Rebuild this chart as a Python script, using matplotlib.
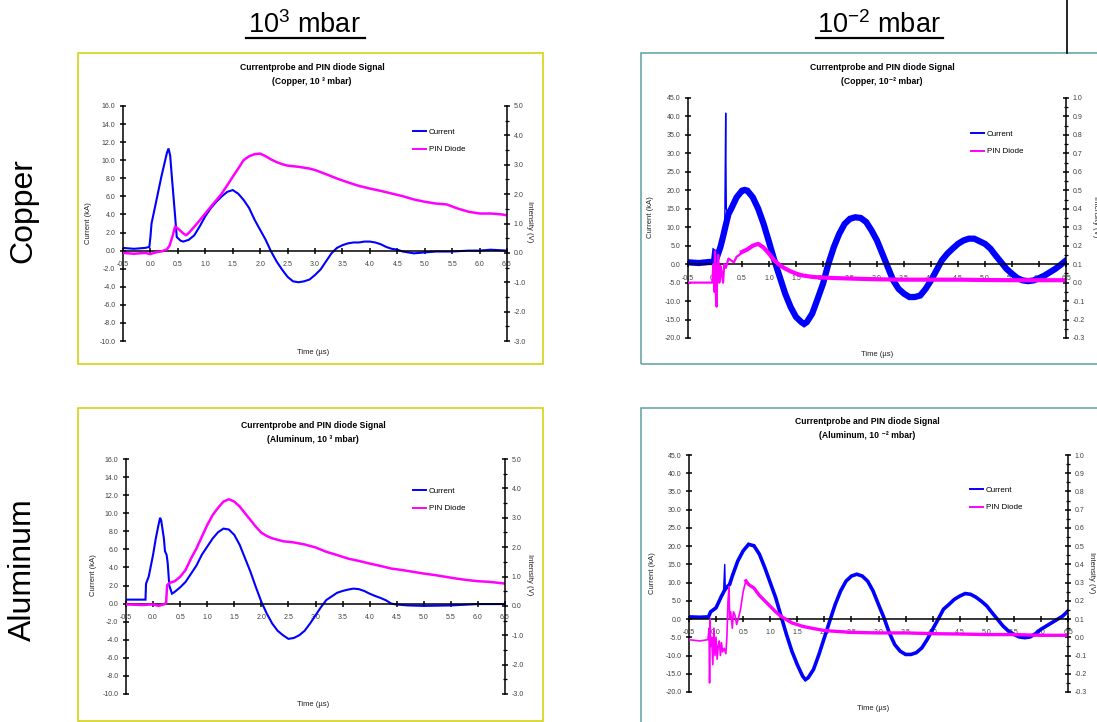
import numpy as np
import matplotlib
matplotlib.use("Agg")
import matplotlib.pyplot as plt
from matplotlib.lines import Line2D
from matplotlib.patches import Rectangle
from matplotlib.ticker import MultipleLocator, FormatStrFormatter

plt.rcParams['font.family'] = ['Liberation Sans', 'DejaVu Sans']
plt.rcParams['mathtext.fontset'] = 'custom'
plt.rcParams['mathtext.rm'] = 'Liberation Sans'
plt.rcParams['mathtext.it'] = 'Liberation Sans:italic'

BLUE = '#0000ff'
MAGENTA = '#ff00ff'

# ---- Copper, 10^3 mbar ----
cu3_t_cur = [-0.5, -0.3, -0.1, -0.02, 0.0, 0.02, 0.1, 0.2, 0.25, 0.3, 0.33, 0.36, 0.39, 0.45, 0.48,
             0.55, 0.6, 0.7, 0.8, 0.9, 1.0, 1.1, 1.2, 1.3, 1.4, 1.5, 1.6, 1.7, 1.8, 1.9, 2.0,
             2.1, 2.2, 2.3, 2.4, 2.5, 2.6, 2.7, 2.8, 2.9, 3.0, 3.1, 3.2, 3.3, 3.4, 3.5, 3.6,
             3.7, 3.8, 3.9, 4.0, 4.1, 4.2, 4.3, 4.4, 4.5, 4.6, 4.8, 5.0, 5.2, 5.5, 5.8, 6.0, 6.2, 6.5]
cu3_cur = [0.3, 0.2, 0.3, 0.4, 1.5, 3.0, 5.3, 8.2, 9.5, 10.8, 11.3, 10.5, 8.2, 3.8, 1.5,
           1.1, 1.0, 1.2, 1.7, 2.7, 3.8, 4.7, 5.4, 6.0, 6.5, 6.7, 6.3, 5.6, 4.7, 3.4, 2.3,
           1.2, -0.1, -1.2, -2.1, -2.9, -3.4, -3.5, -3.4, -3.2, -2.7, -2.1, -1.2, -0.3, 0.3, 0.6, 0.8,
           0.9, 0.9, 1.0, 1.0, 0.9, 0.7, 0.4, 0.2, 0.1, -0.1, -0.3, -0.2, -0.1, -0.1, 0.0, 0.0, 0.1, 0.0]
cu3_t_pin = [-0.5, -0.3, -0.1, 0.0, 0.1, 0.2, 0.3, 0.35, 0.4, 0.45, 0.5, 0.6, 0.65, 0.7, 0.8, 0.9,
             1.0, 1.1, 1.2, 1.3, 1.4, 1.5, 1.6, 1.7, 1.8, 1.9, 2.0, 2.1, 2.2, 2.3, 2.4, 2.5,
             2.6, 2.7, 2.8, 2.9, 3.0, 3.2, 3.4, 3.6, 3.8, 4.0, 4.2, 4.4, 4.6, 4.8, 5.0, 5.2,
             5.4, 5.6, 5.8, 6.0, 6.2, 6.4, 6.5]
cu3_pin = [0.0, -0.03, 0.0, -0.04, 0.02, 0.05, 0.12, 0.25, 0.55, 0.9, 0.83, 0.66, 0.6, 0.68, 0.89, 1.11,
           1.34, 1.57, 1.79, 2.02, 2.3, 2.59, 2.87, 3.16, 3.29, 3.36, 3.38, 3.29, 3.18, 3.09, 3.02, 2.97,
           2.95, 2.93, 2.9, 2.87, 2.82, 2.68, 2.53, 2.4, 2.28, 2.19, 2.11, 2.02, 1.93, 1.82, 1.74, 1.68,
           1.65, 1.51, 1.4, 1.34, 1.34, 1.31, 1.28]

# ---- Copper, 10^-2 mbar ----
cu2_t_cur = [-0.5, -0.3, -0.1, -0.02, 0.0, 0.05, 0.1, 0.15, 0.19, 0.25, 0.3, 0.4, 0.5, 0.55, 0.6,
             0.7, 0.8, 0.9, 1.0, 1.1, 1.2, 1.3, 1.4, 1.5, 1.6, 1.65, 1.7, 1.8, 1.9, 2.0, 2.1,
             2.2, 2.3, 2.4, 2.5, 2.6, 2.7, 2.8, 2.9, 3.0, 3.1, 3.2, 3.3, 3.4, 3.5, 3.6, 3.7,
             3.8, 3.9, 4.0, 4.1, 4.2, 4.3, 4.4, 4.5, 4.6, 4.7, 4.8, 4.9, 5.0, 5.1, 5.2, 5.3,
             5.4, 5.5, 5.6, 5.7, 5.8, 5.9, 6.0, 6.1, 6.2, 6.3, 6.4, 6.5]
cu2_cur = [0.5, 0.3, 0.6, 0.5, 3.0, 2.5, 4.6, 7.5, 10.0, 13.6, 15.0, 18.1, 19.9, 20.1, 19.9,
           18.1, 15.0, 10.9, 6.0, 1.0, -3.5, -8.0, -11.6, -14.3, -15.7, -16.2, -15.7, -13.4, -9.4, -5.3, 0.1,
           4.6, 8.2, 10.9, 12.3, 12.7, 12.5, 11.4, 9.1, 6.4, 2.8, -0.8, -4.4, -6.7, -8.0, -8.9, -8.9,
           -8.5, -6.7, -4.4, -1.7, 1.0, 2.8, 4.2, 5.5, 6.4, 6.9, 6.9, 6.2, 5.5, 4.2, 2.3, 0.5,
           -1.3, -2.6, -3.8, -4.4, -4.6, -4.4, -3.8, -3.1, -2.2, -1.3, -0.2, 1.0]
cu2_t_spike = [0.18, 0.198, 0.205, 0.21, 0.23]
cu2_spike = [9.0, 40.9, 22.0, 15.0, 14.0]
cu2_t_pin0 = [-0.5, -0.2, -0.05, -0.03, -0.01, 0.0, 0.01, 0.02, 0.03, 0.04, 0.06, 0.08, 0.1,
              0.12, 0.15, 0.17, 0.2, 0.25, 0.3, 0.35, 0.4, 0.45, 0.5]
cu2_pin0 = [0.0, 0.0, 0.0, 0.1, -0.05, 0.17, 0.02, -0.1, -0.13, 0.05, 0.15, 0.0, 0.09,
            0.06, 0.0, 0.1, 0.08, 0.13, 0.12, 0.11, 0.14, 0.15, 0.166]
cu2_t_pin = [0.5, 0.6, 0.7, 0.8, 0.9, 1.0, 1.1, 1.2, 1.3, 1.4, 1.5, 1.6, 1.8, 2.0, 2.5,
             3.0, 3.5, 4.0, 4.5, 5.0, 5.5, 6.0, 6.5]
cu2_pin = [0.166, 0.18, 0.2, 0.21, 0.19, 0.157, 0.12, 0.094, 0.076, 0.061, 0.049, 0.04, 0.031, 0.027, 0.022,
           0.018, 0.016, 0.016, 0.016, 0.014, 0.013, 0.013, 0.013]

# ---- Aluminum, 10^3 mbar ----
al3_t_cur = [-0.5, -0.3, -0.14, -0.13, -0.08, 0.0, 0.05, 0.1, 0.13, 0.15, 0.2, 0.22, 0.25, 0.27,
             0.3, 0.35, 0.4, 0.5, 0.6, 0.7, 0.8, 0.9, 1.0, 1.1, 1.2, 1.3, 1.4, 1.5, 1.6, 1.7,
             1.8, 1.9, 2.0, 2.1, 2.2, 2.3, 2.4, 2.5, 2.6, 2.7, 2.8, 2.9, 3.0, 3.1, 3.2, 3.3,
             3.4, 3.5, 3.6, 3.7, 3.8, 3.9, 4.0, 4.1, 4.2, 4.3, 4.4, 4.5, 4.7, 5.0, 5.5, 6.0, 6.5]
al3_cur = [0.44, 0.44, 0.44, 2.2, 3.0, 5.4, 7.2, 8.7, 9.5, 9.2, 7.2, 5.8, 5.4, 4.5,
           2.0, 1.1, 1.3, 1.8, 2.4, 3.3, 4.2, 5.4, 6.3, 7.2, 7.9, 8.3, 8.2, 7.6, 6.5, 5.0,
           3.5, 1.8, 0.2, -1.1, -2.2, -3.0, -3.5, -3.9, -3.8, -3.5, -3.0, -2.2, -1.3, -0.4, 0.4, 0.8,
           1.2, 1.4, 1.55, 1.66, 1.6, 1.4, 1.1, 0.85, 0.63, 0.37, 0.0, -0.1, -0.2, -0.25, -0.2, -0.05, -0.05]
al3_t_pin = [-0.5, -0.2, 0.0, 0.1, 0.2, 0.24, 0.26, 0.3, 0.4, 0.5, 0.6, 0.7, 0.8, 0.9, 1.0,
             1.1, 1.2, 1.3, 1.4, 1.5, 1.6, 1.7, 1.8, 1.9, 2.0, 2.1, 2.2, 2.4, 2.6, 2.8, 3.0,
             3.2, 3.4, 3.6, 3.8, 4.0, 4.2, 4.4, 4.6, 4.8, 5.0, 5.2, 5.4, 5.6, 5.8, 6.0, 6.2, 6.4, 6.5]
al3_pin = [0.05, 0.03, 0.05, 0.0, 0.05, 0.1, 0.7, 0.78, 0.84, 0.99, 1.22, 1.61, 1.95, 2.35, 2.75,
           3.09, 3.34, 3.55, 3.63, 3.55, 3.38, 3.15, 2.92, 2.69, 2.49, 2.38, 2.3, 2.2, 2.16, 2.09, 1.99,
           1.84, 1.73, 1.61, 1.53, 1.44, 1.36, 1.27, 1.22, 1.16, 1.1, 1.05, 0.99, 0.93, 0.88, 0.84, 0.82, 0.78, 0.76]

# ---- Aluminum, 10^-2 mbar ----
al2_t_cur = [-0.5, -0.3, -0.14, -0.1, 0.0, 0.1, 0.15, 0.2, 0.25, 0.3, 0.4, 0.5, 0.6, 0.7, 0.8,
             0.9, 1.0, 1.1, 1.2, 1.3, 1.4, 1.5, 1.6, 1.65, 1.7, 1.8, 1.9, 2.0, 2.1, 2.2, 2.3,
             2.4, 2.5, 2.6, 2.7, 2.8, 2.9, 3.0, 3.1, 3.2, 3.3, 3.4, 3.5, 3.6, 3.7, 3.8, 3.9,
             4.0, 4.1, 4.2, 4.3, 4.4, 4.5, 4.6, 4.7, 4.8, 4.9, 5.0, 5.1, 5.2, 5.3, 5.4, 5.5,
             5.6, 5.7, 5.8, 5.9, 6.0, 6.1, 6.2, 6.3, 6.4, 6.5]
al2_cur = [0.6, 0.5, 0.6, 2.0, 3.1, 6.3, 7.7, 8.8, 9.5, 11.8, 15.9, 18.7, 20.5, 20.1, 17.8,
           14.1, 10.0, 5.9, 0.8, -4.2, -8.8, -12.5, -15.7, -16.6, -16.1, -13.8, -9.7, -5.1, -0.5, 4.0, 7.7,
           10.4, 11.8, 12.3, 11.8, 10.4, 7.7, 4.0, 0.4, -3.8, -7.0, -8.8, -9.7, -9.7, -9.2, -7.9, -5.6,
           -2.8, -0.1, 2.7, 4.0, 5.4, 6.3, 7.0, 6.8, 6.0, 4.9, 3.6, 1.7, -0.1, -1.9, -3.3, -4.2,
           -4.9, -5.1, -4.9, -4.0, -2.8, -1.9, -1.0, -0.1, 0.8, 2.2]
al2_t_spike = [0.14, 0.16, 0.17]
al2_spike = [8.0, 15.0, 8.5]
al2_t_pin0 = [-0.5, -0.3, -0.15, -0.13, -0.12, -0.11, -0.1, -0.08, -0.06, -0.04, -0.02, 0.0,
              0.02, 0.04, 0.06, 0.08, 0.1, 0.12, 0.15, 0.18, 0.2, 0.22, 0.24, 0.25, 0.27,
              0.3, 0.32, 0.35, 0.38, 0.4, 0.45, 0.5, 0.55]
al2_pin0 = [-0.013, -0.02, -0.013, 0.05, -0.25, 0.1, -0.05, 0.0, -0.15, 0.05, -0.1, 0.0,
            -0.12, -0.05, -0.02, -0.1, -0.03, -0.08, -0.06, -0.09, 0.0, 0.2, 0.28, 0.1, 0.14,
            0.05, 0.14, 0.12, 0.07, 0.09, 0.15, 0.25, 0.31]
al2_t_pin = [0.55, 0.6, 0.7, 0.8, 0.9, 1.0, 1.1, 1.2, 1.3, 1.4, 1.5, 1.6, 1.8, 2.0, 2.5,
             3.0, 3.5, 4.0, 4.5, 5.0, 5.5, 6.0, 6.5]
al2_pin = [0.31, 0.29, 0.27, 0.23, 0.2, 0.17, 0.14, 0.115, 0.097, 0.079, 0.07, 0.06, 0.048, 0.037, 0.027,
           0.024, 0.024, 0.02, 0.018, 0.015, 0.015, 0.011, 0.011]

W, H = 1097, 722
fig = plt.figure(figsize=(W / 100, H / 100), dpi=100)


def fx(px):
    return px / W


def fy(py):
    return 1 - py / H


def ftext(x, y, s, **kw):
    fig.text(fx(x), fy(y), s, ha='center', va='center', **kw)


def draw_panel(px, t_cur, cur, t_pin, pin, cur_lim, cur_step, pin_lim, pin_step, pin_minor,
               lw_cur, lw_pin):
    left, top, right, bottom = px
    ax = fig.add_axes([fx(left), fy(bottom), (right - left) / W, (bottom - top) / H])
    ax.plot(t_cur, cur, color=BLUE, lw=lw_cur, solid_joinstyle='miter')
    ax.set_xlim(-0.5, 6.5)
    ax.set_ylim(*cur_lim)
    ax.set_xticks(np.arange(-0.5, 6.51, 0.5))
    ax.set_yticks(np.arange(cur_lim[0], cur_lim[1] + 0.01, cur_step))
    ax.xaxis.set_major_formatter(FormatStrFormatter('%.1f'))
    ax.yaxis.set_major_formatter(FormatStrFormatter('%.1f'))
    for s in ['top', 'right']:
        ax.spines[s].set_visible(False)
    ax.spines['bottom'].set_position(('data', 0))
    for s in ['left', 'bottom']:
        ax.spines[s].set_linewidth(1.1)
    ax.tick_params(axis='y', direction='inout', length=5, width=1.1, labelsize=5,
                   labelcolor='#404040', pad=3)
    ax.tick_params(axis='x', direction='inout', length=5, width=1.1, labelsize=5,
                   labelcolor='#404040', pad=5)

    ax2 = ax.twinx()
    ax2.plot(t_pin, pin, color=MAGENTA, lw=lw_pin)
    ax2.set_ylim(*pin_lim)
    ax2.set_yticks(np.arange(pin_lim[0], pin_lim[1] + 0.001, pin_step))
    ax2.yaxis.set_minor_locator(MultipleLocator(pin_minor))
    ax2.yaxis.set_major_formatter(FormatStrFormatter('%.1f'))
    for s in ['top', 'left', 'bottom']:
        ax2.spines[s].set_visible(False)
    ax2.spines['right'].set_linewidth(1.1)
    ax2.tick_params(axis='y', which='major', direction='inout', length=5, width=1.1,
                    labelsize=5, labelcolor='#404040', pad=2.5)
    ax2.tick_params(axis='y', which='minor', direction='inout', length=3, width=0.9)
    return ax, ax2


def legend(ax2, x, y):
    handles = [Line2D([], [], color=BLUE, lw=1.4), Line2D([], [], color=MAGENTA, lw=1.4)]
    ax2.legend(handles, ['Current', 'PIN Diode'], loc='upper left',
               bbox_to_anchor=(fx(x), fy(y)), bbox_transform=fig.transFigure,
               frameon=False, fontsize=5.8, handlelength=1.6, handletextpad=0.4,
               labelspacing=1.25, borderpad=0, borderaxespad=0)


def box(x0, y0, x1, y1, color):
    fig.patches.append(Rectangle((fx(x0), fy(y1)), (x1 - x0) / W, (y1 - y0) / H,
                                 transform=fig.transFigure, fill=False,
                                 edgecolor=color, lw=1.1, zorder=0))


YELLOW = '#cfcf00'
TEAL = '#5f9f9f'
box(78, 53, 543, 364, YELLOW)
box(641, 53, 1110, 364, TEAL)
box(78, 408, 543, 721, YELLOW)
box(641, 408, 1110, 740, TEAL)

# column / row headers
ftext(304, 25, '10$^{3}$ mbar', fontsize=19.5)
ftext(879, 25, '10$^{-2}$ mbar', fontsize=19.5)
fig.add_artist(Line2D([fx(246), fx(365)], [fy(38), fy(38)], color='black', lw=1.6))
fig.add_artist(Line2D([fx(816), fx(943)], [fy(38), fy(38)], color='black', lw=1.6))
fig.add_artist(Line2D([fx(1067), fx(1067)], [fy(0), fy(53)], color='black', lw=1.2))
ftext(23, 211, 'Copper', fontsize=23, rotation=90)
ftext(23, 570, 'Aluminum', fontsize=23, rotation=90)

title = 'Currentprobe and PIN diode Signal'
lab = dict(fontsize=5.5, color='#202020')

# Copper 10^3
ax, ax2 = draw_panel((123, 106, 507, 341), cu3_t_cur, cu3_cur, cu3_t_pin, cu3_pin,
                     (-10, 16), 2, (-3, 5), 1, 0.5, 1.5, 1.8)
legend(ax2, 413, 128)
ftext(312, 67, title, fontsize=6.2, fontweight='bold')
ftext(312, 82, '(Copper, 10 \u00b3 mbar)', fontsize=6.2, fontweight='bold')
ftext(88, 223, 'Current (kA)', rotation=90, **lab)
ftext(530, 222, 'Intensity (V)', rotation=270, **lab)
ftext(313, 352, 'Time (\u00b5s)', **lab)

# Copper 10^-2
ax, ax2 = draw_panel((688, 98, 1066, 338), cu2_t_cur, cu2_cur, cu2_t_pin, cu2_pin,
                     (-20, 45), 5, (-0.3, 1.0), 0.1, 0.05, 4.5, 3.0)
ax.plot(cu2_t_spike, cu2_spike, color=BLUE, lw=1.0)
ax2.plot(cu2_t_pin0, cu2_pin0, color=MAGENTA, lw=1.6)
legend(ax2, 971, 130)
ftext(882, 67, title, fontsize=6.2, fontweight='bold')
ftext(882, 82, '(Copper, 10\u207b\u00b2 mbar)', fontsize=6.2, fontweight='bold')
ftext(650, 217, 'Current (kA)', rotation=90, **lab)
ftext(1095, 217, 'Intensity (V)', rotation=270, **lab)
ftext(877, 354, 'Time (\u00b5s)', **lab)

# Aluminum 10^3
ax, ax2 = draw_panel((126, 459, 505, 694), al3_t_cur, al3_cur, al3_t_pin, al3_pin,
                     (-10, 16), 2, (-3, 5), 1, 0.5, 1.5, 1.8)
legend(ax2, 413, 487)
ftext(313, 426, title, fontsize=6.2, fontweight='bold')
ftext(313, 440, '(Aluminum, 10 \u00b3 mbar)', fontsize=6.2, fontweight='bold')
ftext(93, 575, 'Current (kA)', rotation=90, **lab)
ftext(530, 575, 'Intensity (V)', rotation=270, **lab)
ftext(313, 705, 'Time (\u00b5s)', **lab)

# Aluminum 10^-2
ax, ax2 = draw_panel((689, 455, 1068, 692), al2_t_cur, al2_cur, al2_t_pin, al2_pin,
                     (-20, 45), 5, (-0.3, 1.0), 0.1, 0.05, 2.6, 2.4)
ax.plot(al2_t_spike, al2_spike, color=BLUE, lw=1.0)
ax2.plot(al2_t_pin0, al2_pin0, color=MAGENTA, lw=1.2)
legend(ax2, 970, 486)
ftext(867, 421, title, fontsize=6.2, fontweight='bold')
ftext(867, 435, '(Aluminum, 10 \u207b\u00b2 mbar)', fontsize=6.2, fontweight='bold')
ftext(653, 573, 'Current (kA)', rotation=90, **lab)
ftext(1092, 573, 'Intensity (V)', rotation=270, **lab)
ftext(873, 709, 'Time (\u00b5s)', **lab)

fig.savefig('out.png', dpi=100)
